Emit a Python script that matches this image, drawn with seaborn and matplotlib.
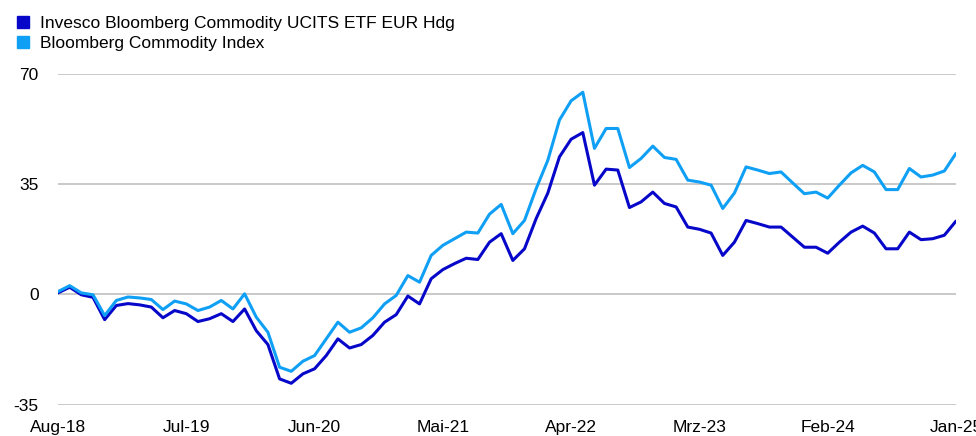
import matplotlib
matplotlib.use("Agg")
import matplotlib.pyplot as plt
import seaborn as sns
import pandas as pd
import numpy as np
from matplotlib.lines import Line2D

months = pd.date_range("2018-08-01", "2025-01-01", freq="MS")

etf = [0.5, 2.3, -0.1, -0.9, -8.0, -3.5, -2.9, -3.3, -4.0, -7.4,
       -5.1, -6.1, -8.6, -7.7, -6.1, -8.6, -4.6, -11.5, -15.9, -26.8,
       -28.2, -25.2, -23.6, -19.4, -14.1, -17.0, -15.9, -13.0, -8.8, -6.4,
       -0.5, -3.0, 5.0, 7.9, 9.8, 11.5, 11.1, 16.6, 19.3, 10.8,
       14.5, 24.1, 32.2, 43.7, 49.3, 51.4, 34.7, 39.8, 39.5, 27.6,
       29.4, 32.5, 28.9, 27.8, 21.4, 20.7, 19.5, 12.4, 16.6, 23.5,
       22.5, 21.4, 21.4, 18.2, 15.0, 15.0, 13.1, 16.6, 19.8, 21.7,
       19.5, 14.5, 14.5, 19.8, 17.4, 17.7, 18.8, 23.3]

index = [0.9, 2.8, 0.5, -0.1, -6.7, -1.9, -0.8, -1.1, -1.6, -4.8,
         -2.1, -3.0, -5.1, -4.0, -1.9, -4.6, 0.2, -7.2, -12.0, -23.1,
         -24.4, -21.2, -19.4, -14.1, -8.8, -12.0, -10.6, -7.4, -3.0, -0.3,
         6.0, 3.9, 12.4, 15.6, 17.7, 19.8, 19.5, 25.5, 28.6, 19.3,
         23.5, 33.6, 42.6, 55.4, 61.5, 64.2, 46.4, 52.7, 52.7, 40.3,
         43.2, 47.1, 43.5, 42.9, 36.3, 35.7, 34.7, 27.3, 32.2, 40.5,
         39.5, 38.4, 38.9, 35.4, 32.0, 32.5, 30.6, 34.7, 38.6, 41.0,
         38.9, 33.3, 33.3, 40.0, 37.3, 37.9, 39.2, 44.8]

series_names = ["Invesco Bloomberg Commodity UCITS ETF EUR Hdg",
                "Bloomberg Commodity Index"]
colors = ["#0707C9", "#0FA0F5"]

yticks = [-35, 0, 35, 70]
xtick_labels = ["Aug-18", "Jul-19", "Jun-20", "Mai-21", "Apr-22", "Mrz-23", "Feb-24", "Jan-25"]

n = len(months)
df = pd.DataFrame({
    "i": list(range(n)) * 2,
    "value": etf + index,
    "series": [series_names[0]] * n + [series_names[1]] * n,
})

sns.set_theme(style="white")
plt.rcParams["font.family"] = ["Liberation Sans", "DejaVu Sans"]
plt.rcParams["text.color"] = "black"
plt.rcParams["xtick.color"] = "black"
plt.rcParams["ytick.color"] = "black"

fig = plt.figure(figsize=(9.76, 4.36), dpi=100)
ax = fig.add_axes([58 / 976, 1 - 404.7 / 436, (956 - 58) / 976, (404.7 - 74) / 436])

sns.lineplot(data=df, x="i", y="value", hue="series", palette=colors,
             linewidth=2.2, ax=ax, legend=False, zorder=3)

ax.set_xlim(0, n - 1)
ax.set_ylim(-35, 70)
ax.set_yticks(yticks)
ax.set_yticklabels([str(t) for t in yticks], fontsize=12.5, color="black")
tick_pos = list(range(0, n, 11))
ax.set_xticks(tick_pos)
ax.set_xticklabels(xtick_labels, fontsize=12.5, color="black")
ax.tick_params(axis="x", length=0, pad=11)
ax.tick_params(axis="y", length=0, pad=14)
ax.set_xlabel("")
ax.set_ylabel("")
for s in ["left", "right", "top", "bottom"]:
    ax.spines[s].set_visible(False)
ax.grid(axis="y", color="#c0c0c0", linewidth=1.2, zorder=0)
ax.grid(axis="x", visible=False)
ax.set_axisbelow(True)

# legend (manual, top-left)
handles = [Line2D([0], [0], marker="s", linestyle="none", markersize=8,
                  markerfacecolor=c, markeredgecolor=c) for c in colors]
leg = fig.legend(handles, series_names, loc="upper left",
                 bbox_to_anchor=(4 / 976, 1 - 4 / 436), frameon=False,
                 fontsize=12.5, handlelength=0.8, handletextpad=0.6,
                 labelspacing=0.25, borderpad=0.2)
for t in leg.get_texts():
    t.set_color("black")

fig.savefig("out.png", dpi=100)
